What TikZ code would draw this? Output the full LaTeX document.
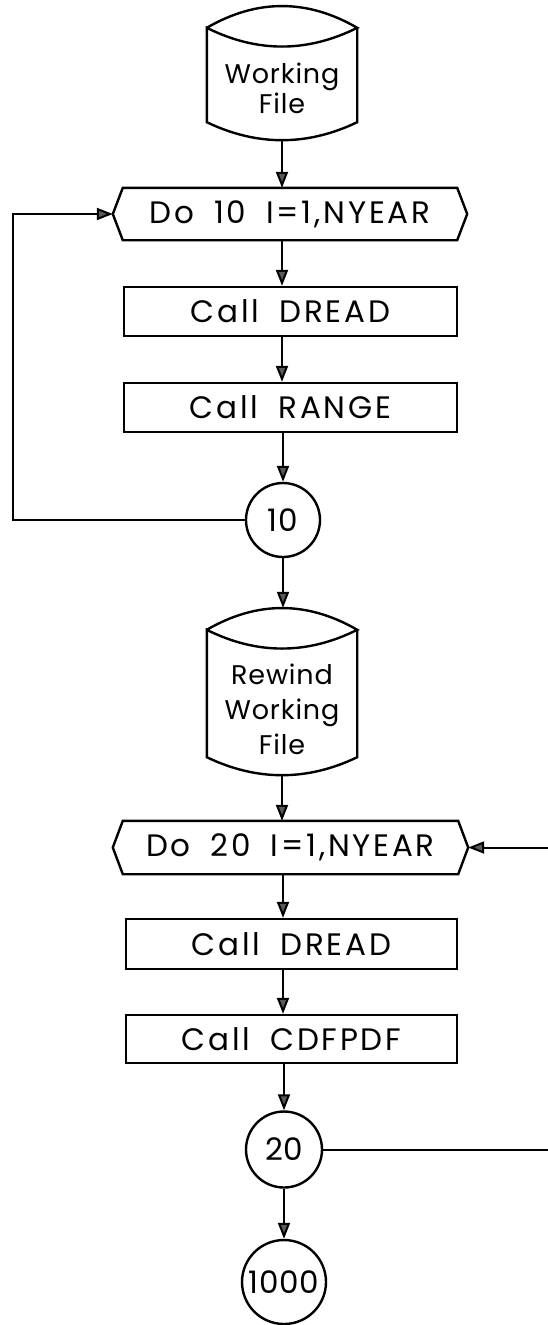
\documentclass[tikz,border=0pt]{standalone}
\usepackage{fontspec}
\setmainfont{Poppins}
\usetikzlibrary{arrows.meta,calc}

% outline of a pointed "loop" box: tips at west and east
\newcommand\hexoutline[1]{%
  \draw[outline] (#1.west) -- ($(#1.north west)+(10,0)$) -- ($(#1.north east)+(-10,0)$)
    -- (#1.east) -- ($(#1.south east)+(-10,0)$) -- ($(#1.south west)+(10,0)$) -- cycle;}
% outline of a file drum: lens on top, bulging bottom
\newcommand\drumoutline[1]{%
  \draw[outline] ($(#1.north west)+(0,22)$)
      .. controls ($(#1.north west)+(50,-7)$) and ($(#1.north east)+(-50,-7)$) .. ($(#1.north east)+(0,22)$)
      .. controls ($(#1.north east)+(-50,47)$) and ($(#1.north west)+(50,47)$) .. ($(#1.north west)+(0,22)$)
      -- ($(#1.south west)+(0,-18)$)
      .. controls ($(#1.south west)+(50,6)$) and ($(#1.south east)+(-50,6)$) .. ($(#1.south east)+(0,-18)$)
      -- ($(#1.north east)+(0,22)$);}
% word gap used in the box captions
\newcommand\wgap{\hspace{20pt}}

\tikzset{
  outline/.style={line width=2.4pt, line join=miter},
  txt/.style={font=\fontsize{31}{34}\selectfont\addfontfeature{LetterSpace=9}},
  stepbox/.style={draw, txt, line width=2.4pt, rectangle, minimum width=333pt,
                  minimum height=49pt, inner sep=0pt},
  loopbox/.style={txt, minimum width=354pt, minimum height=52pt, inner sep=0pt},
  drum/.style={minimum width=150pt, inner sep=0pt},
  drumtext/.style={align=center, font=\fontsize{27}{30}\selectfont\addfontfeature{LetterSpace=3}},
  connector/.style={draw, circle, line width=2.4pt, inner sep=0pt,
                    font=\fontsize{31}{34}\selectfont\addfontfeature{LetterSpace=2}},
  conn/.style={line width=2pt},
  arr/.style={conn, -{Triangle[length=16pt,width=12pt,fill=black!65]}},
}

\begin{document}
\begin{tikzpicture}[x=1pt,y=-1pt]
\useasboundingbox (0,0) rectangle (548,1325);

% ---- first pass: scan the working file
\node[drum, minimum height=134pt] (wf) at (282,73) {};
\drumoutline{wf}
\node[drumtext] (wft) at (282,88) {Working\\File};

\node[loopbox] (hex10) at (290,214) {Do\wgap 10\wgap I=1,NYEAR};
\hexoutline{hex10}

\node[stepbox] (dread1) at (290.5,311.5) {Call\wgap DREAD};
\node[stepbox] (range)  at (290.5,407.5) {Call\wgap RANGE};
\node[connector, minimum size=74pt] (c10) at (283,520) {10};

% ---- second pass: rewind and build distributions
\node[drum, minimum height=167pt] (rw) at (282,691.5) {};
\drumoutline{rw}
\node[drumtext, font=\fontsize{27}{35}\selectfont\addfontfeature{LetterSpace=3}] (rwt) at (282,709) {Rewind\\Working\\File};

\node[loopbox, minimum width=355pt, minimum height=53pt] (hex20) at (290.5,847.5) {Do\wgap 20\wgap I=1,NYEAR};
\hexoutline{hex20}

\node[stepbox, minimum width=331pt, minimum height=50pt] (dread2) at (291.5,944) {Call\wgap DREAD};
\node[stepbox, minimum width=331pt, minimum height=48pt] (cdf)    at (291.5,1039) {Call\wgap CDFPDF};
\node[connector, minimum size=76pt] (c20)   at (284,1149.5) {20};
\node[connector, minimum size=84pt] (c1000) at (284,1282) {1000};

% ---- flow lines
\draw[arr] (wf.south)     -- (hex10.north -| wf.south);
\draw[arr] (hex10.south -| wf.south) -- (dread1.north -| wf.south);
\draw[arr] (dread1.south -| wf.south) -- (range.north -| wf.south);
\draw[arr] (range.south -| c10.north) -- (c10.north);
\draw[arr] (c10.south)    -- (rw.north -| c10.south);
\draw[arr] (rw.south)     -- (hex20.north -| rw.south);
\draw[arr] (hex20.south -| c10.south) -- (dread2.north -| c10.south);
\draw[arr] (dread2.south -| c10.south) -- (cdf.north -| c10.south);
\draw[arr] (cdf.south -| c20.north) -- (c20.north);
\draw[arr] (c20.south)    -- (c1000.north);

% ---- loop returns
\coordinate (lx) at (13,0);
\coordinate (rx) at (562,0);
\draw[arr] (c10.west) -- (c10.west -| lx) |- (hex10.west);
\draw[arr] (c20.east) -- (c20.east -| rx) |- (hex20.east);
\end{tikzpicture}
\end{document}
